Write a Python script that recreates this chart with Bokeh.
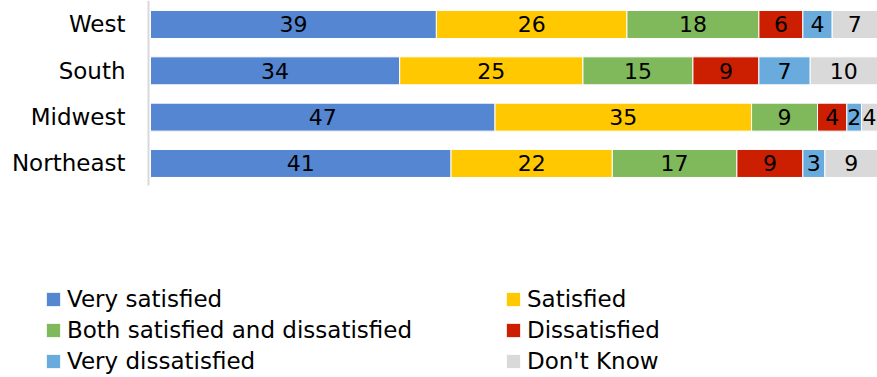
from bokeh.plotting import figure
from bokeh.models import ColumnDataSource, Range1d, Legend, LegendItem
from bokeh.core.properties import value
from bokeh.embed import file_html
from bokeh.resources import INLINE

# Survey responses by region (percent)
regions = ["West", "South", "Midwest", "Northeast"]
series = ["Very satisfied", "Satisfied", "Both satisfied and dissatisfied",
          "Dissatisfied", "Very dissatisfied", "Don't Know"]
very_satisfied = [39, 34, 47, 41]
satisfied = [26, 25, 35, 22]
both = [18, 15, 9, 17]
dissatisfied = [6, 9, 4, 9]
very_dissatisfied = [4, 7, 2, 3]
dont_know = [7, 10, 4, 9]
colors = ["#5586D1", "#FFC800", "#80B95C", "#CC1E00", "#6AABDD", "#D9D9D9"]

values = [very_satisfied, satisfied, both, dissatisfied, very_dissatisfied, dont_know]

FONT = value("DejaVu Sans")
X_START, X_END = -20.46, 99.18
Y_START, Y_END = -3.62, 4.518
BAR_H = 0.604

p = figure(width=877, height=377, x_range=Range1d(X_START, X_END),
           y_range=Range1d(Y_START, Y_END), x_axis_type=None, y_axis_type=None,
           output_backend="svg", toolbar_location=None, min_border=0)
p.outline_line_color = None
p.grid.visible = False
p.background_fill_color = "white"
p.border_fill_color = "white"

ys = [len(regions) - i for i in range(len(regions))]

# category axis line
p.segment(x0=-0.27, y0=min(ys) - 0.475, x1=-0.27, y1=Y_END,
          line_color="#D9D9D9", line_width=2)

left = [0] * len(regions)
renderers = []
for name, vals, col in zip(series, values, colors):
    right = [l + v for l, v in zip(left, vals)]
    # labels sit in the middle of the visible part of each segment
    mid = [(l + min(r, X_END)) / 2 for l, r in zip(left, right)]
    src = ColumnDataSource(dict(y=ys, left=left, right=right, mid=mid,
                                lab=[str(v) for v in vals]))
    r = p.hbar(y="y", left="left", right="right", height=BAR_H, source=src,
               fill_color=col, line_color="white", line_width=1)
    p.text(x="mid", y="y", text="lab", source=src, text_font=FONT,
           text_font_size="22px", text_align="center", text_baseline="middle",
           text_color="black")
    renderers.append(r)
    left = right

# region names
lab_src = ColumnDataSource(dict(x=[-3.41] * len(regions), y=ys, t=regions))
p.text(x="x", y="y", text="t", source=lab_src, text_font=FONT,
       text_font_size="23px", text_align="right", text_baseline="middle",
       text_color="black")


def make_legend(idx, loc):
    items = [LegendItem(label=series[i], renderers=[renderers[i]]) for i in idx]
    lg = Legend(items=items, location=loc, orientation="vertical",
                label_text_font="DejaVu Sans", label_text_font_size="23px",
                label_text_color="black", glyph_width=18, glyph_height=18,
                label_standoff=5, spacing=5, padding=0, margin=0,
                border_line_color=None, background_fill_alpha=0)
    p.add_layout(lg)


make_legend([0, 2, 4], (44, 3))
make_legend([1, 3, 5], (504, 3))

open("out.html", "w").write(file_html(p, INLINE))
